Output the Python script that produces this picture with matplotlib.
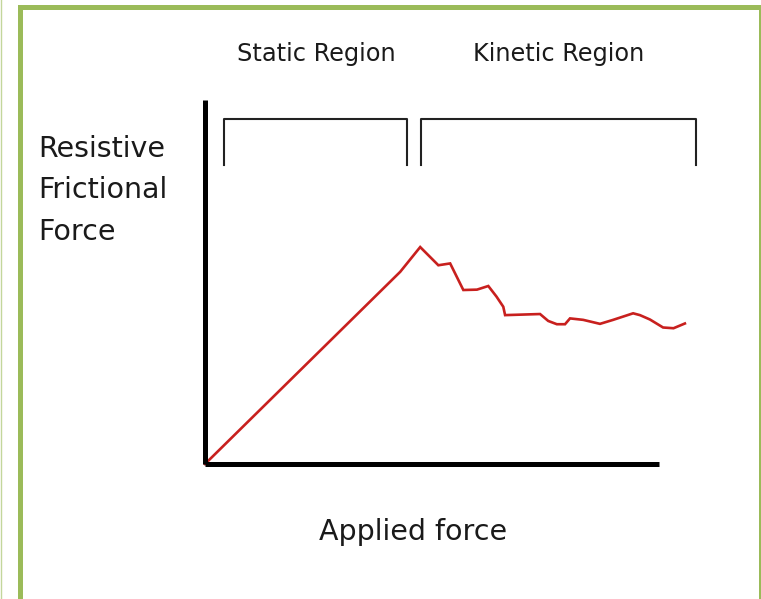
import matplotlib
matplotlib.use("Agg")
import matplotlib.pyplot as plt
from matplotlib.patches import Rectangle
from matplotlib.lines import Line2D

# applied force (x) vs resistive frictional force (y), arbitrary units 0-100
applied = [0, 43.0, 47.4, 51.4, 54.0, 56.9, 59.9, 62.4, 64.2, 65.7, 66.1,
           73.8, 75.6, 77.5, 79.3, 80.4, 83.3, 87.0, 89.9, 94.3, 95.8,
           98.0, 100.9, 103.2, 105.7]
friction = [0, 52.8, 59.6, 54.6, 55.1, 47.8, 47.9, 48.9, 46.0, 43.2, 40.9,
            41.2, 39.3, 38.4, 38.4, 40.0, 39.6, 38.5, 39.6, 41.4, 40.9,
            39.7, 37.5, 37.3, 38.6]
static_span = [4.2, 44.5]
kinetic_span = [47.6, 108.1]
region_labels = ["Static Region", "Kinetic Region"]
y_label_lines = ["Resistive", "Frictional", "Force"]
x_label = "Applied force"

W, H = 761, 599
fig = plt.figure(figsize=(W / 100, H / 100), dpi=100)
fig.patch.set_facecolor("white")


def fx(px):
    return px / W


def fy(py):
    return 1 - py / H


# green frame
fig.patches.append(Rectangle((fx(19.5), fy(600.5)), fx(760.5) - fx(19.5),
                             fy(7) - fy(600.5), transform=fig.transFigure,
                             fill=False, edgecolor="#9bbb59", linewidth=3.6))
fig.lines.append(Line2D([fx(0.8), fx(0.8)], [0, 1], transform=fig.transFigure,
                        color="#c3d69b", linewidth=1.0))

ax = fig.add_axes([fx(205), fy(464), fx(659) - fx(205), fy(100) - fy(464)])
ax.set_xlim(0, 100)
ax.set_ylim(0, 100)
for s in ["top", "right"]:
    ax.spines[s].set_visible(False)
for s in ["left", "bottom"]:
    ax.spines[s].set_linewidth(3.6)
    ax.spines[s].set_color("black")
    ax.spines[s].set_capstyle("butt")
ax.set_xticks([])
ax.set_yticks([])
ax.patch.set_alpha(0)

ax.plot(applied, friction, color="#c8201e", linewidth=1.9, clip_on=False,
        solid_joinstyle="miter")

# brackets over the two regions
for span in [static_span, kinetic_span]:
    ax.plot([span[0], span[0], span[1], span[1]], [82.1, 94.8, 94.8, 82.1],
            color="#222222", linewidth=1.5, clip_on=False)

txt = dict(color="#1a1a1a", family="DejaVu Sans", va="baseline", ha="left")
fig.text(fx(237), fy(61), region_labels[0], fontsize=17.3, **txt)
fig.text(fx(473), fy(61), region_labels[1], fontsize=17.3, **txt)
for line, base in zip(y_label_lines, [157, 198, 240]):
    fig.text(fx(38), fy(base), line, fontsize=20.5, **txt)
fig.text(fx(319), fy(540), x_label, fontsize=20.5, **txt)

fig.savefig("out.png", dpi=100, facecolor="white")
